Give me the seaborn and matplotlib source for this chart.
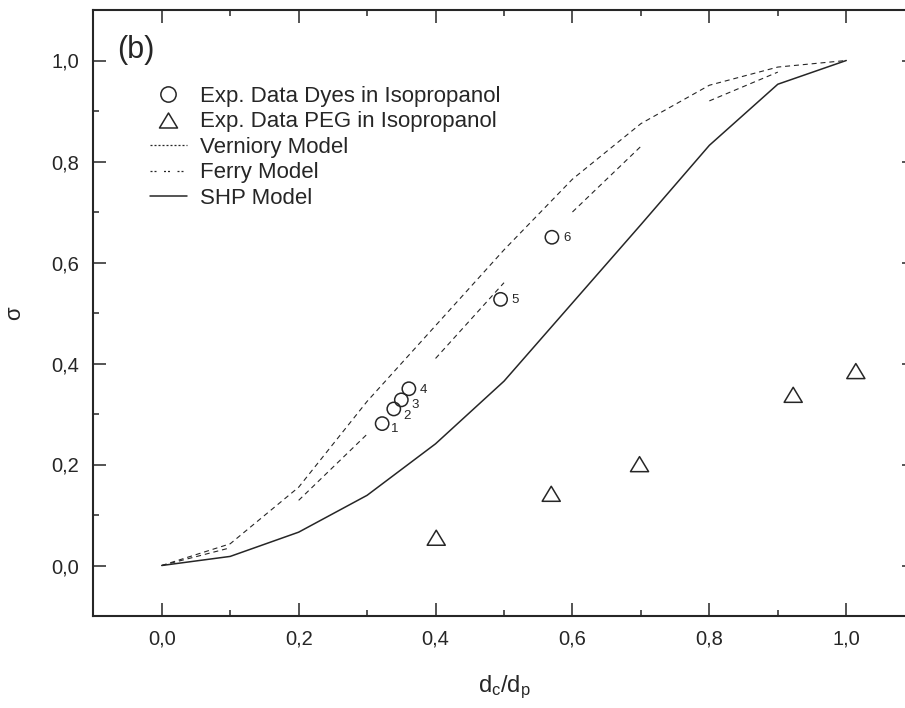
import matplotlib
matplotlib.use("Agg")
import matplotlib.pyplot as plt
from matplotlib.lines import Line2D
from matplotlib.path import Path
from matplotlib.ticker import AutoMinorLocator
import numpy as np
import pandas as pd
import seaborn as sns

# ---- data -------------------------------------------------------------
x_model = [0.0, 0.1, 0.2, 0.3, 0.4, 0.5, 0.6, 0.7, 0.8, 0.9, 1.0]
verniory = [0.0, 0.043, 0.155, 0.325, 0.475, 0.625, 0.765, 0.875, 0.951, 0.987, 1.0]
ferry = [0.0, 0.035, 0.129, 0.26, 0.41, 0.56, 0.70, 0.83, 0.92, 0.977, 1.0]
shp = [0.0, 0.018, 0.066, 0.139, 0.241, 0.365, 0.52, 0.675, 0.832, 0.953, 1.0]

dyes_x = [0.322, 0.339, 0.350, 0.361, 0.495, 0.570]
dyes_y = [0.281, 0.310, 0.328, 0.350, 0.527, 0.650]
dyes_labels = ["1", "2", "3", "4", "5", "6"]

peg_x = [0.401, 0.569, 0.698, 0.9225, 1.014]
peg_y = [0.055, 0.142, 0.2007, 0.338, 0.385]

x_ticks = [0.0, 0.2, 0.4, 0.6, 0.8, 1.0]
x_tick_labels = ["0,0", "0,2", "0,4", "0,6", "0,8", "1,0"]
y_ticks = [0.0, 0.2, 0.4, 0.6, 0.8, 1.0]
y_tick_labels = ["0,0", "0,2", "0,4", "0,6", "0,8", "1,0"]

legend_labels = [
    "Exp. Data Dyes in Isopropanol",
    "Exp. Data PEG in Isopropanol",
    "Verniory Model",
    "Ferry Model",
    "SHP Model",
]

# ---- style ------------------------------------------------------------
sns.set_theme(style="ticks")
plt.rcParams["font.family"] = ["Liberation Sans", "DejaVu Sans"]
plt.rcParams["mathtext.fontset"] = "custom"
plt.rcParams["mathtext.rm"] = "Liberation Sans"
plt.rcParams["mathtext.it"] = "Liberation Sans:italic"

INK = "#262626"
W, H = 905, 708

fig = plt.figure(figsize=(W / 100, H / 100), dpi=100)
fig.patch.set_facecolor("white")
# frame spans slightly past the right edge of the canvas
ax_left, ax_right, ax_top, ax_bottom = 93.3, 914.7, 10.0, 616.0
ax_w, ax_h = ax_right - ax_left, ax_bottom - ax_top
ax = fig.add_axes([ax_left / W, 1 - ax_bottom / H, ax_w / W, ax_h / H])
ax.set_facecolor("white")


def px_x(p):
    return (p - ax_left) / ax_w


def px_y(p):
    return (ax_bottom - p) / ax_h


short_dash = (0, (4.5, 3.5))

# Verniory model
sns.lineplot(x=x_model, y=verniory, ax=ax, color=INK, lw=0.8,
             linestyle=short_dash, errorbar=None, sort=False)

# Ferry model, drawn as alternating pieces
ferry_df = pd.DataFrame({
    "x": x_model[:10],
    "y": ferry[:10],
    "seg": [i // 2 for i in range(10)],
})
sns.lineplot(data=ferry_df, x="x", y="y", units="seg", estimator=None,
             ax=ax, color=INK, lw=0.8, linestyle=short_dash, sort=False)

# SHP model
sns.lineplot(x=x_model, y=shp, ax=ax, color=INK, lw=1.1,
             errorbar=None, sort=False)

# experimental points
tri = Path([(-1.0, -0.83), (1.0, -0.83), (0.0, 0.83), (-1.0, -0.83)],
           [Path.MOVETO, Path.LINETO, Path.LINETO, Path.CLOSEPOLY])

sns.scatterplot(x=dyes_x, y=dyes_y, ax=ax, marker="o", s=92,
                facecolor="none", edgecolor=INK, linewidth=1.1, zorder=4)
sns.scatterplot(x=peg_x, y=peg_y, ax=ax, marker=tri, s=170,
                facecolor="none", edgecolor=INK, linewidth=1.1, zorder=4)

# point numbers (offsets in pixels, right of each circle)
label_offsets_px = [(12.7, -5.0), (13.4, -6.7), (14.3, -5.0),
                    (14.7, -1.0), (14.3, -1.0), (15.0, -1.0)]
for xv, yv, lbl, (dx, dy) in zip(dyes_x, dyes_y, dyes_labels, label_offsets_px):
    ax.annotate(lbl, (xv, yv), xytext=(dx * 0.72, dy * 0.72),
                textcoords="offset points", ha="center", va="center",
                fontsize=9.5, color=INK)

# ---- axes -------------------------------------------------------------
ax.set_xlim(-0.1, 1.1)
ax.set_ylim(-0.1, 1.1)
ax.set_xticks(x_ticks)
ax.set_xticklabels(x_tick_labels)
ax.set_yticks(y_ticks)
ax.set_yticklabels(y_tick_labels)
ax.xaxis.set_minor_locator(AutoMinorLocator(2))
ax.yaxis.set_minor_locator(AutoMinorLocator(2))
ax.tick_params(which="both", direction="in", top=True, right=True,
               color=INK, width=1.1, labelcolor=INK)
ax.tick_params(which="major", length=9.2, labelsize=14.5, pad=10)
ax.tick_params(which="minor", length=4.5)
for sp in ax.spines.values():
    sp.set_linewidth(1.5)
    sp.set_color(INK)

ax.set_xlabel(r"$\mathregular{d_c/d_p}$", fontsize=17, color=INK)
ax.set_ylabel("σ", fontsize=16, color=INK)
ax.xaxis.set_label_coords(px_x(504), px_y(674))
ax.yaxis.set_label_coords(px_x(25), 0.5)

ax.text(px_x(117), px_y(50), "(b)", transform=ax.transAxes, fontsize=22,
        color=INK, ha="left", va="center")

# ---- legend -----------------------------------------------------------
handles = [
    Line2D([], [], ls="none", marker="o", ms=11, mfc="none", mec=INK, mew=1.1),
    Line2D([], [], ls="none", marker=tri, ms=13, mfc="none", mec=INK, mew=1.1),
    Line2D([], [], color=INK, lw=0.9, ls=(0, (1.6, 1.6))),
    Line2D([], [], color=INK, lw=0.9, ls=(0, (1.6, 1.6, 1.6, 6.0))),
    Line2D([], [], color=INK, lw=1.1, ls="-"),
]
ax.legend(handles, legend_labels, loc="upper left",
          bbox_to_anchor=(px_x(150), px_y(86)),
          frameon=False, fontsize=16, handlelength=1.65, handletextpad=0.6,
          labelspacing=0.2, borderpad=0, borderaxespad=0, labelcolor=INK)

fig.savefig("out.png", dpi=100, facecolor="white")
